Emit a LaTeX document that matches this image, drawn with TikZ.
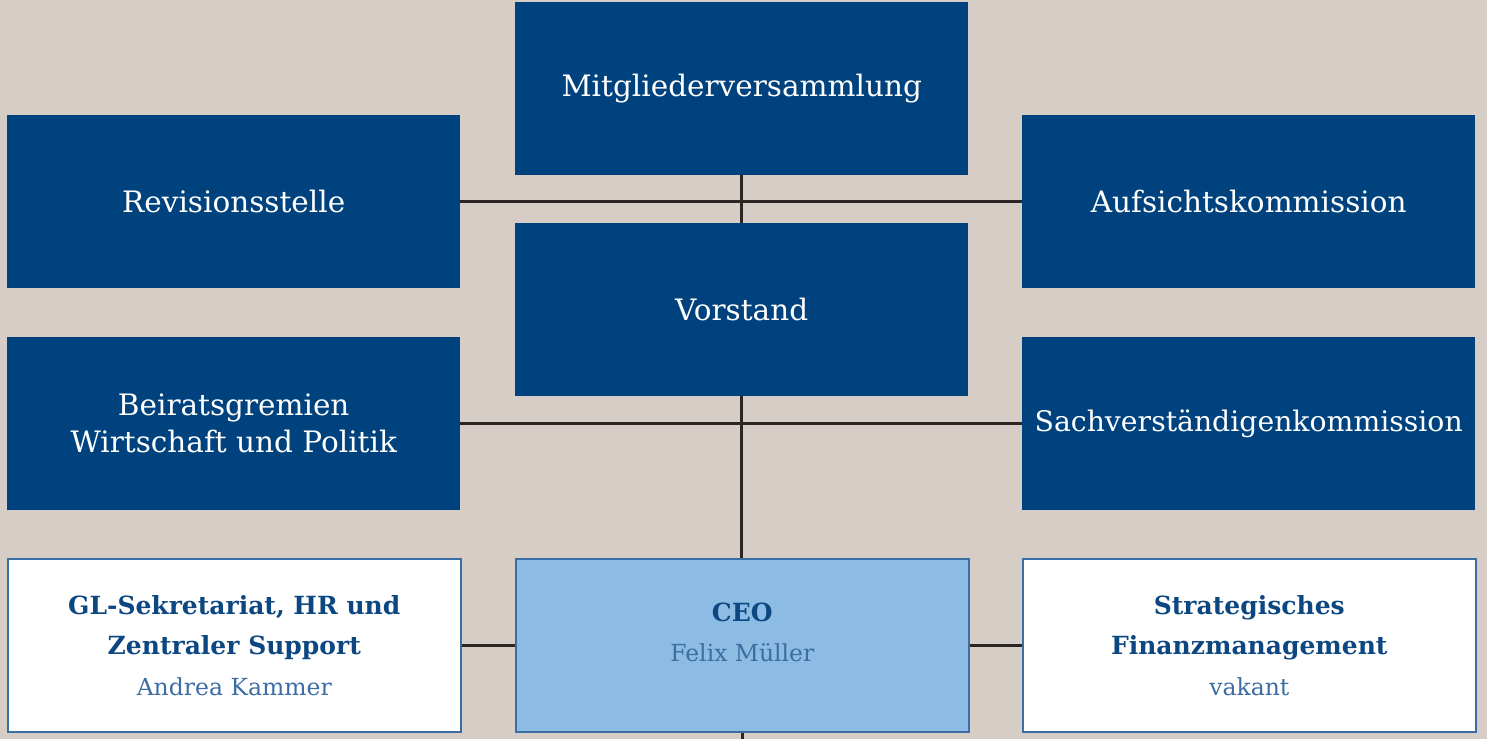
\documentclass[tikz,border=0pt]{standalone}
\usepackage{fontspec}
\setmainfont{DejaVu Serif}
\definecolor{bg}{HTML}{D6CDC7}
\definecolor{dblue}{HTML}{00427E}
\definecolor{lblue}{HTML}{8CBCE3}
\definecolor{bord}{HTML}{3A6DA3}
\definecolor{ttl}{HTML}{0D4781}
\definecolor{nm}{HTML}{3D6DA3}
\definecolor{ln}{HTML}{2B2523}
\tikzset{
  box/.style={minimum width=453pt, minimum height=173pt, inner sep=0pt, align=center, anchor=north west},
  darkbox/.style={box, fill=dblue, text=white, font=\fontsize{29.5}{37}\selectfont},
  lightbox/.style={box, draw=bord, line width=1.6pt, text=ttl, font=\fontsize{25}{40.5}\selectfont},
  whitebox/.style={lightbox, fill=white},
  ceobox/.style={lightbox, fill=lblue},
  conn/.style={draw=ln, line width=2.8pt},
}
\newcommand{\ttlfont}{\bfseries}
\newcommand{\nmfont}{\fontsize{23.5}{40.5}\selectfont\color{nm}}
\begin{document}
\begin{tikzpicture}[x=1pt,y=-1pt]
\fill[bg] (0,0) rectangle (1487,739);
\useasboundingbox (0,0) rectangle (1487,739);
\coordinate (bottomend) at (741,739);
\node[darkbox] (mv) at (515,2) {Mitgliederversammlung};
\node[darkbox] (rev) at (7,115) {Revisionsstelle};
\node[darkbox] (auf) at (1022,115) {Aufsichtskommission};
\node[darkbox] (vor) at (515,223) {Vorstand};
\node[darkbox] (bei) at (7,337) {Beiratsgremien\\Wirtschaft und Politik};
\node[darkbox, font=\fontsize{28.3}{37}\selectfont] (sach) at (1022,337) {Sachverständigenkommission};
\node[whitebox] (gl) at (7,558) {{\ttlfont GL-Sekretariat, HR und}\\{\ttlfont Zentraler Support}\\{\nmfont Andrea Kammer}};
\node[ceobox] (ceo) at (515,558) {{\ttlfont CEO}\\{\nmfont Felix Müller}\\[-14pt]\mbox{}};
\node[whitebox] (sfm) at (1022,558) {{\ttlfont Strategisches}\\{\ttlfont Finanzmanagement}\\{\nmfont vakant}};
\draw[conn] (mv.south) -- (vor.north);
\draw[conn] (rev.east) -- (auf.west);
\draw[conn] (vor.south) -- (vor.south |- ceo.north);
\draw[conn] (bei.east) -- (sach.west);
\draw[conn] (gl.east) -- (ceo.west);
\draw[conn] (ceo.east) -- (sfm.west);
\draw[conn] (ceo.south) -- (ceo.south |- bottomend);
\end{tikzpicture}
\end{document}
